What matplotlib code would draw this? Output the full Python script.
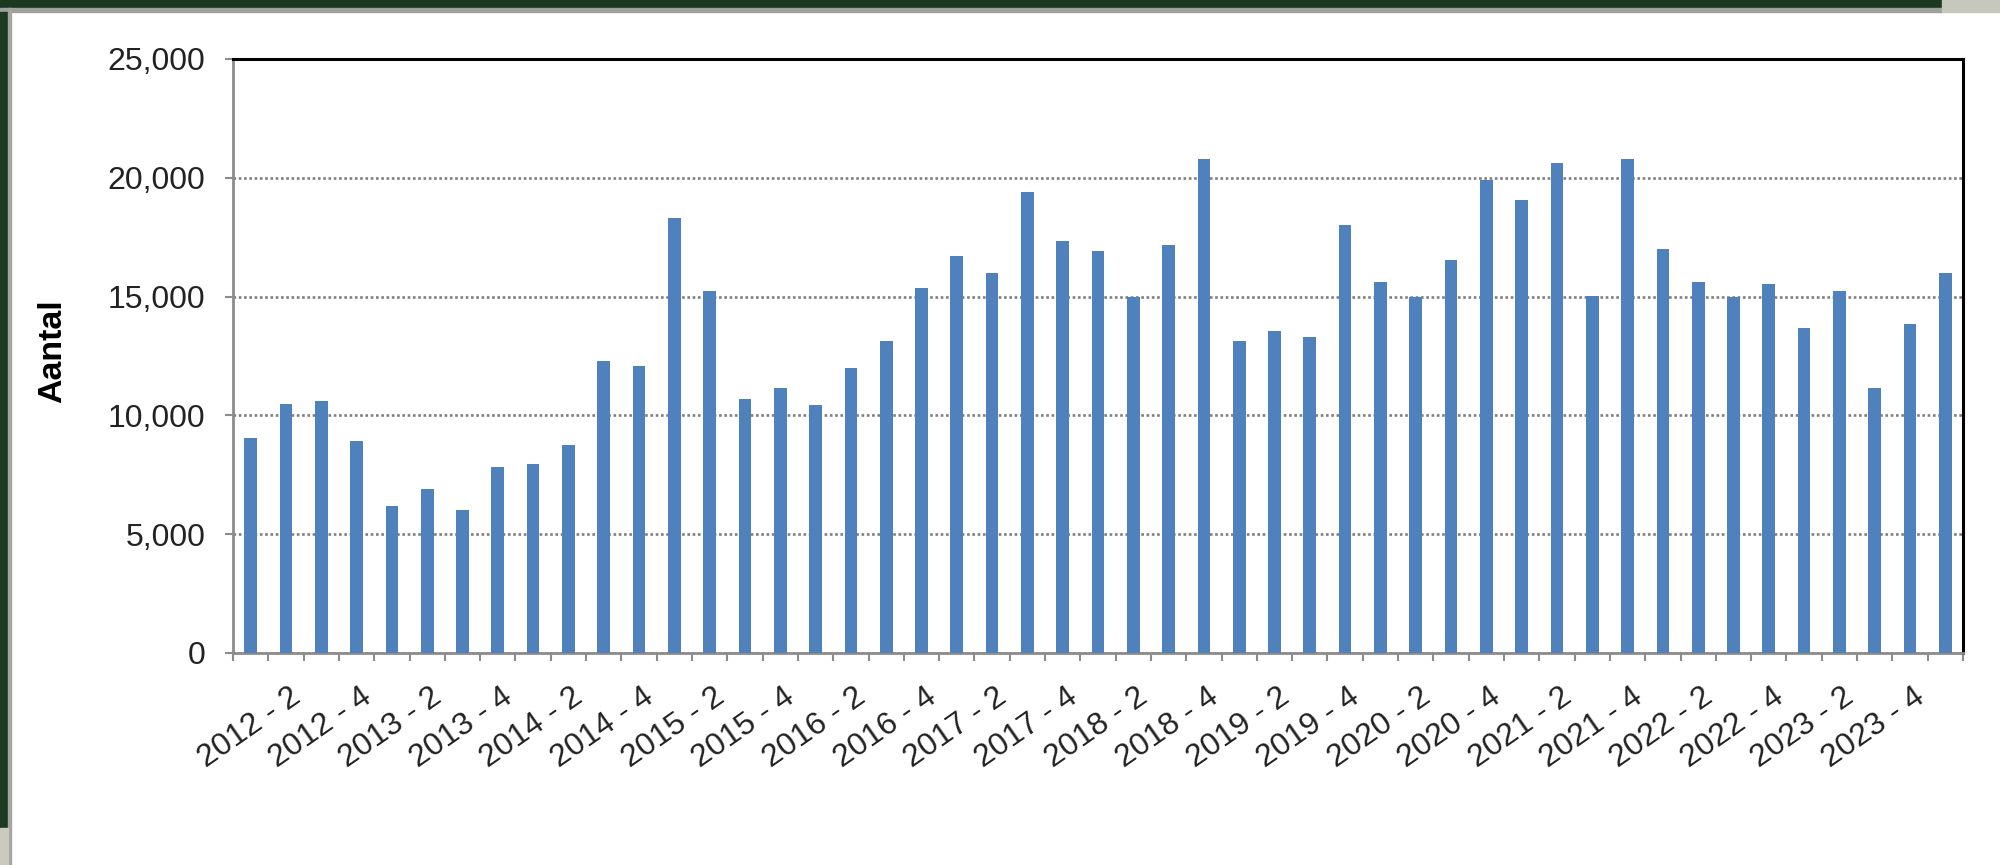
import matplotlib
matplotlib.use("Agg")
import matplotlib.pyplot as plt
import matplotlib.transforms as mtransforms
from matplotlib.patches import Rectangle
from matplotlib.ticker import FuncFormatter, FixedLocator
import numpy as np

plt.rcParams['font.family'] = ['Liberation Sans', 'DejaVu Sans']

# quarterly counts, 2012 - 1 through 2024 - 1
years = list(range(2012, 2025))
aantal = [9030, 10490, 10600, 8940, 6180, 6920, 6000, 7820, 7940, 8750,
          12270, 12100, 18300, 15250, 10700, 11170, 10420, 12010, 13120, 15350,
          16710, 15980, 19410, 17360, 16910, 15000, 17180, 20800, 13120, 13570,
          13300, 18020, 15600, 15000, 16550, 19900, 19050, 20630, 15010, 20800,
          17010, 15600, 15000, 15530, 13680, 15250, 11170, 13860, 15980]

periods = [f"{y} - {q}" for y in years for q in range(1, 5)][:len(aantal)]
label_idx = list(range(1, len(periods), 2))   # every second quarter gets a label
y_ticks = [0, 5000, 10000, 15000, 20000, 25000]

bar_color = '#4f81bd'
grid_color = '#7f7f7f'
axis_gray = '#8c8c8c'
text_color = '#222222'

fig = plt.figure(figsize=(20, 8.65), dpi=100)
fig.patch.set_facecolor('white')

# screenshot frame (dark green window border)
W, H = 2000.0, 865.0
def px_rect(x0, y0, x1, y1, color):
    fig.patches.append(Rectangle((x0 / W, 1 - y1 / H), (x1 - x0) / W, (y1 - y0) / H,
                                 transform=fig.transFigure, color=color, zorder=0))
px_rect(0, 0, 1942, 8, '#1b3a20')
px_rect(0, 8, 1942, 12, '#9ea29c')
px_rect(1942, 0, 2000, 12, '#c6c8be')
px_rect(0, 12, 8, 828, '#1b3a20')
px_rect(8, 8, 11, 865, '#a4a6a0')
px_rect(0, 828, 8, 865, '#cbcbbd')

ax = fig.add_axes([233 / W, 1 - 653 / H, (1963 - 233) / W, (653 - 59) / H])

x = np.arange(len(aantal))
ax.bar(x, aantal, width=0.36, color=bar_color, zorder=3)

ax.set_xlim(-0.5, len(aantal) - 0.5)
ax.set_ylim(0, 25000)

ax.set_yticks(y_ticks)
ax.yaxis.set_major_formatter(FuncFormatter(lambda v, p: f"{int(v):,}"))
ax.tick_params(axis='y', direction='out', length=6, width=1.5, color=axis_gray,
               pad=14, labelsize=23, labelcolor=text_color)

ax.yaxis.grid(True, linestyle=(0, (1, 1)), linewidth=1.9, color=grid_color, zorder=1)
ax.set_axisbelow(True)

# category labels (every second quarter), tick marks between categories
ax.set_xticks(label_idx)
ax.set_xticklabels([periods[i] for i in label_idx], rotation=35, ha='right',
                   va='top', rotation_mode='anchor')
ax.xaxis.set_minor_locator(FixedLocator(np.arange(-0.5, len(aantal), 1.0)))
ax.tick_params(axis='x', which='major', length=0, pad=21, labelsize=23,
               labelcolor=text_color)
ax.tick_params(axis='x', which='minor', direction='out', length=6, width=1.5,
               color=axis_gray)
shift = mtransforms.ScaledTranslation(3 / 100, 0, fig.dpi_scale_trans)
for lbl in ax.get_xticklabels():
    lbl.set_transform(lbl.get_transform() + shift)

for side in ('left', 'bottom'):
    ax.spines[side].set_color(axis_gray)
    ax.spines[side].set_linewidth(2)
for side in ('top', 'right'):
    ax.spines[side].set_color('black')
    ax.spines[side].set_linewidth(2.2)

fig.text(53 / W, 1 - 351 / H, 'Aantal', rotation=90, ha='center', va='center',
         fontsize=24.5, fontweight='bold', color='black')

fig.savefig('out.png', dpi=100, facecolor=fig.get_facecolor())
